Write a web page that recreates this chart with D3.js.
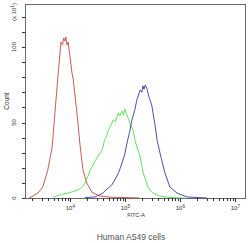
<!DOCTYPE html>
<html lang="en">
<head>
<meta charset="UTF-8">
<title>Human A549 cells - FITC-A histogram</title>
<script src="https://d3js.org/d3.v7.min.js"></script>
<style>
    body { margin: 0; background: #fff; }
    text { font-family: "Liberation Sans", Arial, sans-serif; fill: #333; }
</style>
</head>
<body>
<div id="chart"></div>
<script>
    // FITC-A values stored as log10 exponents, counts in units of 10^1
    const redLog   = [3.25, 3.32, 3.41, 3.50, 3.59, 3.67, 3.72, 3.78, 3.83, 3.86, 3.88, 3.90, 3.92, 3.94, 3.96, 3.99, 4.03, 4.05, 4.12, 4.18, 4.23, 4.30, 4.39, 4.49, 4.54, 4.70, 4.90, 5.10, 5.25];
    const redCount = [0, 1.3, 3.3, 7.3, 18.5, 33.8, 56.3, 82.8, 103.3, 101.5, 106, 104, 106.6, 101.3, 103.3, 94.7, 82.8, 79.5, 56.3, 33.8, 18.5, 9.9, 4, 2, 1.3, 0.6, 0.3, 0.2, 0];

    const greenLog   = [3.69, 3.81, 3.96, 4.05, 4.14, 4.22, 4.27, 4.32, 4.36, 4.41, 4.45, 4.50, 4.54, 4.58, 4.62, 4.66, 4.69, 4.73, 4.78, 4.82, 4.87, 4.90, 4.94, 4.97, 4.99, 5.02, 5.05, 5.09, 5.14, 5.18, 5.23, 5.27, 5.32, 5.37, 5.41, 5.46, 5.50, 5.63, 5.81, 6.08];
    const greenCount = [0.7, 2, 3.3, 4.2, 5.3, 7.5, 9.9, 14.5, 18.5, 21.5, 24.5, 27.5, 29.8, 31.8, 38, 41, 45, 47.5, 51.7, 50.5, 56.3, 54.5, 57.6, 55, 58.9, 56, 53, 49, 45, 37.5, 31.8, 27.2, 17.2, 12, 7.3, 4.8, 3.3, 1.3, 0.3, 0];

    const blueLog   = [4.27, 4.45, 4.58, 4.69, 4.75, 4.81, 4.88, 4.94, 4.99, 5.03, 5.08, 5.12, 5.17, 5.21, 5.27, 5.30, 5.32, 5.34, 5.36, 5.39, 5.43, 5.48, 5.54, 5.58, 5.63, 5.72, 5.81, 5.94, 6.12, 6.48];
    const blueCount = [0.3, 0.7, 3, 6.6, 8.5, 11.9, 17, 23.2, 29, 36.4, 44, 51.7, 58, 64.9, 71.5, 70, 74.2, 72, 74.8, 72.8, 67, 61.6, 48.3, 38, 29.8, 16.6, 7.3, 3.3, 0.7, 0];

    const xMajor = [4, 5, 6, 7];
    const yMajor = [0, 50, 100];
    const yMinor = [10, 20, 30, 40, 60, 70, 80, 90, 110, 120];

    const width = 250, height = 243;
    const mLeft = 25, mRight = 245, mTop = 4, mBottom = 198;

    const svg = d3.select("#chart").append("svg")
        .attr("width", width)
        .attr("height", height);

    const x = d3.scaleLog()
        .domain([Math.pow(10, 3.176), Math.pow(10, 7.176)])
        .range([mLeft, mRight]);

    const y = d3.scaleLinear()
        .domain([0, 128.5])
        .range([mBottom, mTop]);

    // frame
    svg.append("rect")
        .attr("x", mLeft + 0.5).attr("y", mTop + 0.5)
        .attr("width", mRight - mLeft).attr("height", mBottom - mTop)
        .attr("fill", "none")
        .attr("stroke", "#666")
        .attr("stroke-width", 1);

    // x axis: major + minor log ticks
    const xTicks = [];
    for (let e = 3; e <= 7; e++) {
        for (let m = 1; m <= 9; m++) {
            const v = m * Math.pow(10, e);
            if (v >= x.domain()[0] && v <= x.domain()[1]) xTicks.push({ v: v, major: m === 1 });
        }
    }
    svg.append("g").selectAll("line")
        .data(xTicks)
        .enter().append("line")
        .attr("x1", d => Math.round(x(d.v)) + 0.5)
        .attr("x2", d => Math.round(x(d.v)) + 0.5)
        .attr("y1", mBottom)
        .attr("y2", d => mBottom + (d.major ? 4 : 3))
        .attr("stroke", "#333");

    const xLab = svg.append("g").selectAll("text")
        .data(xMajor)
        .enter().append("text")
        .attr("x", d => x(Math.pow(10, d)))
        .attr("y", 210)
        .attr("text-anchor", "middle")
        .style("font-size", "6px");
    xLab.append("tspan").text("10");
    xLab.append("tspan").attr("dy", -2.5).style("font-size", "4.5px").text(d => d);

    // y axis ticks
    svg.append("g").selectAll("line")
        .data(yMajor.concat(yMinor))
        .enter().append("line")
        .attr("x1", mLeft - 3)
        .attr("x2", mLeft)
        .attr("y1", d => Math.round(y(d)) + 0.5)
        .attr("y2", d => Math.round(y(d)) + 0.5)
        .attr("stroke", "#333");

    svg.append("g").selectAll("text")
        .data(yMajor)
        .enter().append("text")
        .attr("transform", d => `translate(16,${y(d)}) rotate(-90)`)
        .attr("text-anchor", "middle")
        .style("font-size", "6px")
        .text(d => d);

    const mult = svg.append("text")
        .attr("transform", "translate(16,12) rotate(-90)")
        .attr("text-anchor", "middle")
        .style("font-size", "6px");
    mult.append("tspan").text("(x 10");
    mult.append("tspan").attr("dy", -2).style("font-size", "4.5px").text("1");
    mult.append("tspan").attr("dy", 2).text(")");

    svg.append("text")
        .attr("transform", "translate(9,101) rotate(-90)")
        .attr("text-anchor", "middle")
        .style("font-size", "6.5px")
        .text("Count");

    svg.append("text")
        .attr("x", 136).attr("y", 217)
        .attr("text-anchor", "middle")
        .style("font-size", "5.5px")
        .text("FITC-A");

    svg.append("text")
        .attr("x", 131).attr("y", 240)
        .attr("text-anchor", "middle")
        .style("font-size", "8.5px")
        .style("fill", "#555")
        .text("Human A549 cells");

    // histogram outlines
    const line = d3.line()
        .x(d => x(Math.pow(10, d[0])))
        .y(d => y(d[1]));

    const series = [
        { xs: redLog, ys: redCount, color: "#c9473f" },
        { xs: greenLog, ys: greenCount, color: "#4fe04f" },
        { xs: blueLog, ys: blueCount, color: "#3a3a9e" }
    ];

    svg.append("g").selectAll("path")
        .data(series)
        .enter().append("path")
        .attr("d", s => line(d3.zip(s.xs, s.ys)))
        .attr("fill", "none")
        .attr("stroke", s => s.color)
        .attr("stroke-width", 0.9);
</script>
</body>
</html>
